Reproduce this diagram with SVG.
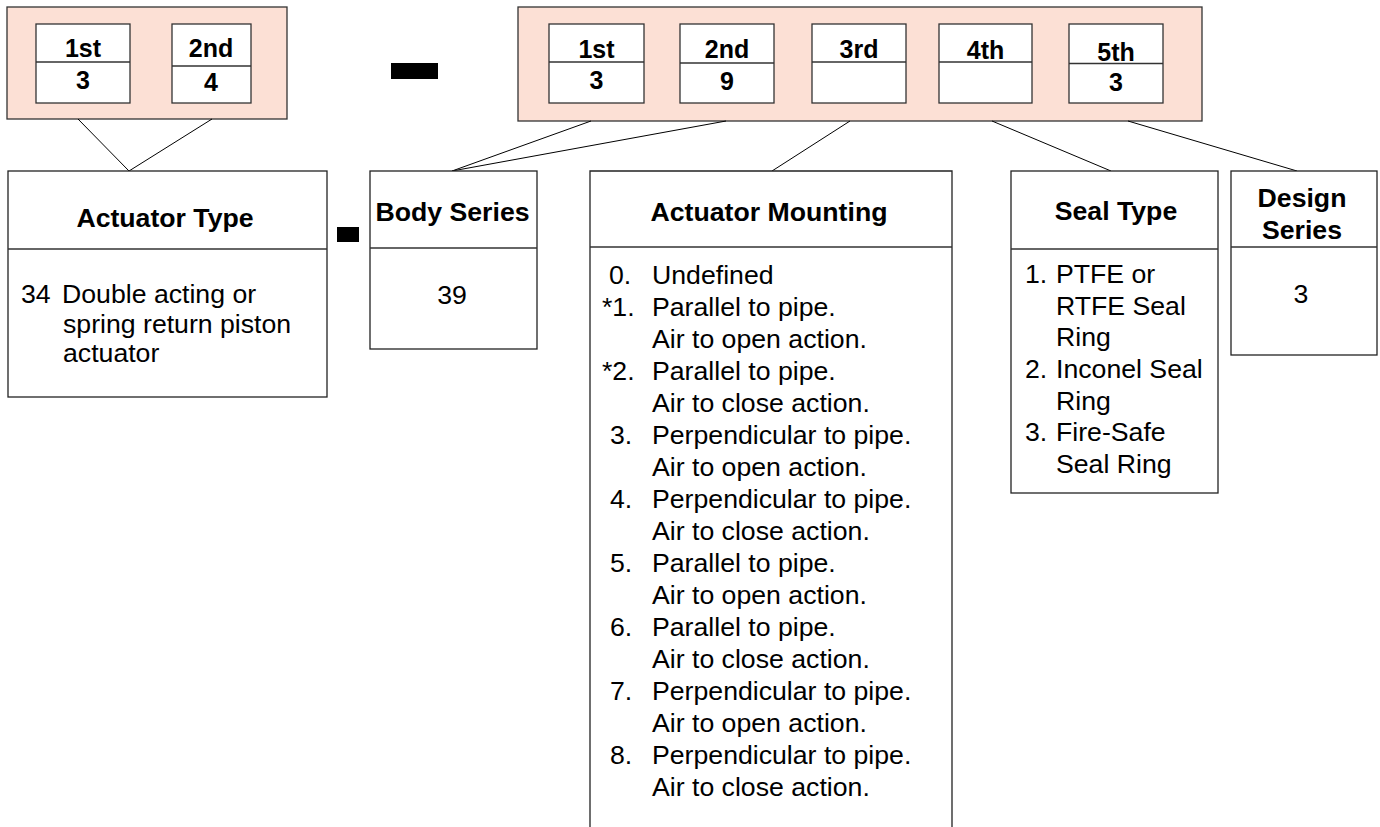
<svg xmlns="http://www.w3.org/2000/svg" width="1380" height="827" viewBox="0 0 1380 827">
<style>
.bg{fill:#ffffff}
.pink{fill:#fce0d5;stroke:#333;stroke-width:1.3}
.cell{fill:#ffffff;stroke:#333;stroke-width:1.3}
.box{fill:#ffffff;stroke:#222;stroke-width:1.3}
.div{stroke:#333;stroke-width:1.3;fill:none}
.con{stroke:#000;stroke-width:1;fill:none}
.dash{fill:#000}
text{font-family:"Liberation Sans",Arial,sans-serif;fill:#000}
.b{font-weight:bold;font-size:25px;text-anchor:middle}
.h{font-weight:bold;font-size:26.67px;text-anchor:middle}
.t{font-size:26.67px}
.tc{font-size:26.67px;text-anchor:middle}
</style>
<rect class="bg" x="0" y="0" width="1380" height="827"/>

<g id="code-left">
  <rect class="pink" x="7" y="7" width="280" height="112"/>
  <rect class="cell" x="36" y="24" width="94" height="79"/>
  <line class="div" x1="36" y1="62" x2="130" y2="62"/>
  <text class="b" x="83" y="57">1st</text>
  <text class="b" x="83" y="89">3</text>
  <rect class="cell" x="172" y="24" width="79" height="79"/>
  <line class="div" x1="172" y1="66" x2="251" y2="66"/>
  <text class="b" x="211" y="57">2nd</text>
  <text class="b" x="211" y="91">4</text>
</g>

<g id="dash-top">
  <rect class="dash" x="391" y="63" width="47" height="16"/>
</g>

<g id="code-right">
  <rect class="pink" x="518" y="7" width="684" height="114"/>
  <rect class="cell" x="549" y="24" width="95" height="79"/>
  <line class="div" x1="549" y1="62" x2="644" y2="62"/>
  <text class="b" x="596.5" y="58">1st</text>
  <text class="b" x="596.5" y="89">3</text>
  <rect class="cell" x="680" y="24" width="94" height="79"/>
  <line class="div" x1="680" y1="63" x2="774" y2="63"/>
  <text class="b" x="727" y="58">2nd</text>
  <text class="b" x="727" y="90">9</text>
  <rect class="cell" x="812" y="24" width="94" height="79"/>
  <line class="div" x1="812" y1="62" x2="906" y2="62"/>
  <text class="b" x="859" y="58">3rd</text>
  <rect class="cell" x="939" y="24" width="93" height="79"/>
  <line class="div" x1="939" y1="62" x2="1032" y2="62"/>
  <text class="b" x="985.5" y="59">4th</text>
  <rect class="cell" x="1069" y="24" width="94" height="79"/>
  <line class="div" x1="1069" y1="63.5" x2="1163" y2="63.5"/>
  <text class="b" x="1116" y="61">5th</text>
  <text class="b" x="1116" y="91">3</text>
</g>

<g id="connectors">
  <line class="con" x1="78" y1="119" x2="129" y2="171"/>
  <line class="con" x1="212" y1="119" x2="129" y2="171"/>
  <line class="con" x1="591" y1="121" x2="452" y2="171"/>
  <line class="con" x1="726" y1="121" x2="452" y2="171"/>
  <line class="con" x1="850" y1="121" x2="772" y2="171"/>
  <line class="con" x1="992" y1="121" x2="1111" y2="171"/>
  <line class="con" x1="1128" y1="121" x2="1297" y2="171"/>
</g>

<g id="actuator-type">
  <rect class="box" x="8" y="171" width="319" height="226"/>
  <line class="div" x1="8" y1="249" x2="327" y2="249"/>
  <text class="h" x="165" y="227">Actuator Type</text>
  <text class="t" x="21" y="303">34</text>
  <text class="t" x="62" y="303">Double acting or</text>
  <text class="t" x="63" y="332.5">spring return piston</text>
  <text class="t" x="63" y="362">actuator</text>
</g>

<g id="dash-mid">
  <rect class="dash" x="337" y="227" width="22" height="15"/>
</g>

<g id="body-series">
  <rect class="box" x="370" y="171" width="167" height="178"/>
  <line class="div" x1="370" y1="248" x2="537" y2="248"/>
  <text class="h" x="452.5" y="221">Body Series</text>
  <text class="tc" x="452" y="304">39</text>
</g>

<g id="actuator-mounting">
  <path class="box" d="M590,840 V171 H952 V840"/>
  <line class="div" x1="590" y1="247" x2="952" y2="247"/>
  <text class="h" x="769" y="221">Actuator Mounting</text>
  <g class="t">
    <text class="t" x="609" y="284.3">0.</text>
    <text class="t" x="652" y="284.3">Undefined</text>
    <text class="t" x="602" y="316.3">*1.</text>
    <text class="t" x="652" y="316.3">Parallel to pipe.</text>
    <text class="t" x="652" y="348.3">Air to open action.</text>
    <text class="t" x="602" y="380.3">*2.</text>
    <text class="t" x="652" y="380.3">Parallel to pipe.</text>
    <text class="t" x="652" y="412.3">Air to close action.</text>
    <text class="t" x="610" y="444.3">3.</text>
    <text class="t" x="652" y="444.3">Perpendicular to pipe.</text>
    <text class="t" x="652" y="476.3">Air to open action.</text>
    <text class="t" x="610" y="508.3">4.</text>
    <text class="t" x="652" y="508.3">Perpendicular to pipe.</text>
    <text class="t" x="652" y="540.3">Air to close action.</text>
    <text class="t" x="610" y="572.3">5.</text>
    <text class="t" x="652" y="572.3">Parallel to pipe.</text>
    <text class="t" x="652" y="604.3">Air to open action.</text>
    <text class="t" x="610" y="636.3">6.</text>
    <text class="t" x="652" y="636.3">Parallel to pipe.</text>
    <text class="t" x="652" y="668.3">Air to close action.</text>
    <text class="t" x="610" y="700.3">7.</text>
    <text class="t" x="652" y="700.3">Perpendicular to pipe.</text>
    <text class="t" x="652" y="732.3">Air to open action.</text>
    <text class="t" x="610" y="764.3">8.</text>
    <text class="t" x="652" y="764.3">Perpendicular to pipe.</text>
    <text class="t" x="652" y="796.3">Air to close action.</text>
  </g>
</g>

<g id="seal-type">
  <rect class="box" x="1011" y="171" width="207" height="322"/>
  <line class="div" x1="1011" y1="249" x2="1218" y2="249"/>
  <text class="h" x="1116" y="220">Seal Type</text>
  <text class="t" x="1025" y="283">1.</text>
  <text class="t" x="1056" y="283">PTFE or</text>
  <text class="t" x="1056" y="315">RTFE Seal</text>
  <text class="t" x="1056" y="346">Ring</text>
  <text class="t" x="1025" y="378">2.</text>
  <text class="t" x="1056" y="378">Inconel Seal</text>
  <text class="t" x="1056" y="410">Ring</text>
  <text class="t" x="1025" y="441">3.</text>
  <text class="t" x="1056" y="441">Fire-Safe</text>
  <text class="t" x="1056" y="473">Seal Ring</text>
</g>

<g id="design-series">
  <rect class="box" x="1231" y="171" width="146" height="184"/>
  <line class="div" x1="1231" y1="247" x2="1377" y2="247"/>
  <text class="h" x="1302" y="207">Design</text>
  <text class="h" x="1302" y="239">Series</text>
  <text class="tc" x="1301" y="303">3</text>
</g>
</svg>
